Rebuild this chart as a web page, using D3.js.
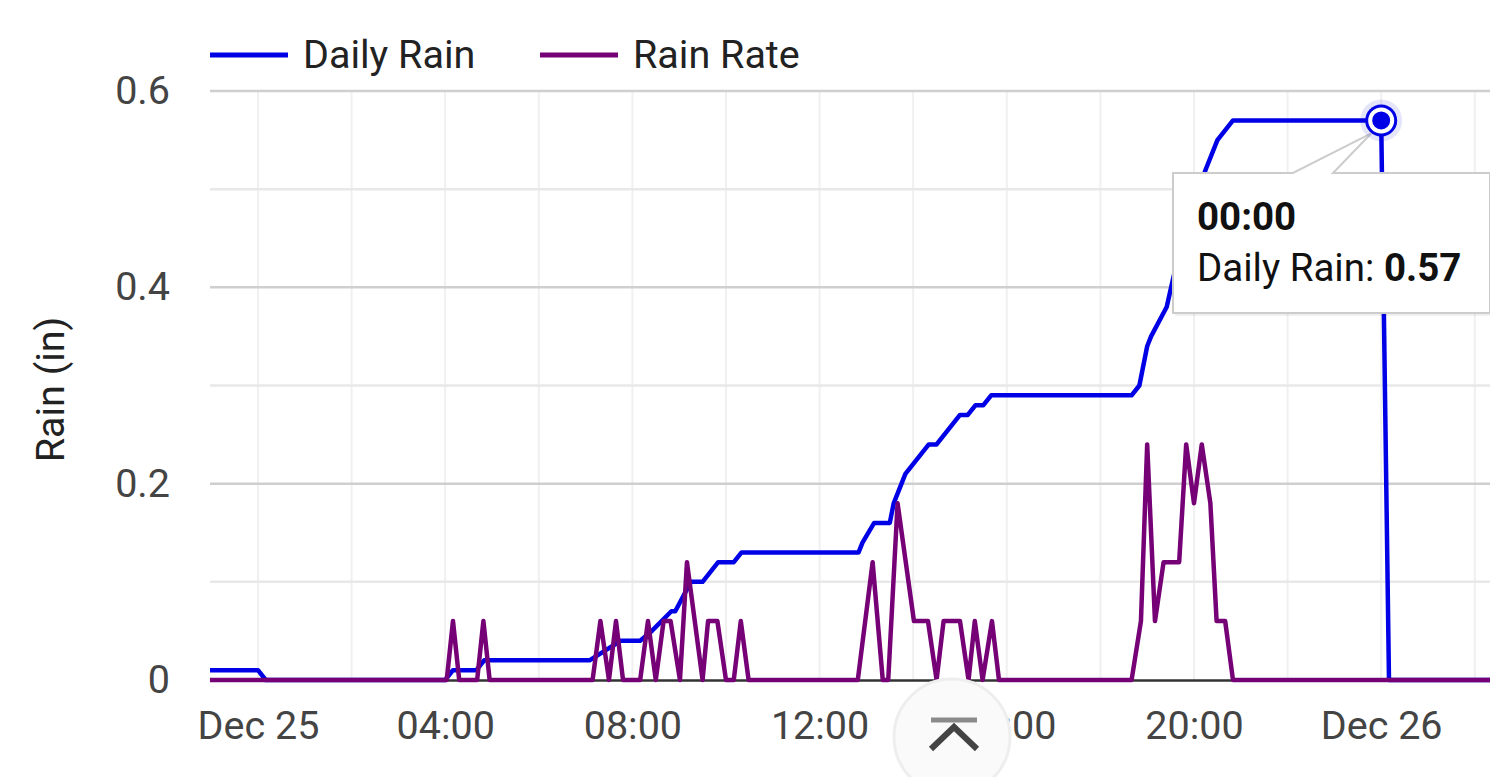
<!DOCTYPE html>
<html>
<head>
<meta charset="utf-8">
<script src="https://cdnjs.cloudflare.com/ajax/libs/d3/7.8.5/d3.min.js"></script>
<style>
  body { margin: 0; background: #fff; }
  svg { display: block; font-family: Roboto, "Noto Sans", sans-serif; }
</style>
</head>
<body>
<svg id="chart" width="1490" height="777"></svg>
<script>
// Daily Rain (in), cumulative for the day
var dailyTimes = ["2023-12-24 22:55", "2023-12-25 00:00", "2023-12-25 00:10", "2023-12-25 04:00",
    "2023-12-25 04:10", "2023-12-25 04:40", "2023-12-25 04:50", "2023-12-25 07:05", "2023-12-25 07:25",
    "2023-12-25 07:45", "2023-12-25 08:10", "2023-12-25 08:25", "2023-12-25 08:50", "2023-12-25 08:55",
    "2023-12-25 09:15", "2023-12-25 09:30", "2023-12-25 09:50", "2023-12-25 10:10", "2023-12-25 10:20",
    "2023-12-25 12:50", "2023-12-25 12:55", "2023-12-25 13:10", "2023-12-25 13:30", "2023-12-25 13:35",
    "2023-12-25 13:50", "2023-12-25 14:20", "2023-12-25 14:30", "2023-12-25 15:00", "2023-12-25 15:10",
    "2023-12-25 15:20", "2023-12-25 15:30", "2023-12-25 15:40", "2023-12-25 18:40", "2023-12-25 18:50",
    "2023-12-25 19:00", "2023-12-25 19:05", "2023-12-25 19:25", "2023-12-25 19:45", "2023-12-25 20:15",
    "2023-12-25 20:30", "2023-12-25 20:50", "2023-12-26 00:00", "2023-12-26 00:10", "2023-12-26 02:30"];
var dailyRain = [0.01, 0.01, 0, 0,
    0.01, 0.01, 0.02, 0.02, 0.03,
    0.04, 0.04, 0.05, 0.07, 0.07,
    0.10, 0.10, 0.12, 0.12, 0.13,
    0.13, 0.14, 0.16, 0.16, 0.18,
    0.21, 0.24, 0.24, 0.27, 0.27,
    0.28, 0.28, 0.29, 0.29, 0.30,
    0.34, 0.35, 0.38, 0.45, 0.52,
    0.55, 0.57, 0.57, 0, 0];

// Rain Rate (in/hr)
var rateTimes = ["2023-12-24 22:55", "2023-12-25 04:02", "2023-12-25 04:10", "2023-12-25 04:18",
    "2023-12-25 04:41", "2023-12-25 04:49", "2023-12-25 04:57", "2023-12-25 07:09", "2023-12-25 07:19",
    "2023-12-25 07:30", "2023-12-25 07:39", "2023-12-25 07:48", "2023-12-25 08:10", "2023-12-25 08:20",
    "2023-12-25 08:30", "2023-12-25 08:40", "2023-12-25 08:49", "2023-12-25 09:01", "2023-12-25 09:10",
    "2023-12-25 09:30", "2023-12-25 09:37", "2023-12-25 09:49", "2023-12-25 10:00", "2023-12-25 10:10",
    "2023-12-25 10:19", "2023-12-25 10:29", "2023-12-25 12:49", "2023-12-25 13:08", "2023-12-25 13:21",
    "2023-12-25 13:28", "2023-12-25 13:40", "2023-12-25 14:01", "2023-12-25 14:19", "2023-12-25 14:30",
    "2023-12-25 14:39", "2023-12-25 15:00", "2023-12-25 15:11", "2023-12-25 15:19", "2023-12-25 15:29",
    "2023-12-25 15:41", "2023-12-25 15:50", "2023-12-25 18:40", "2023-12-25 18:52", "2023-12-25 19:00",
    "2023-12-25 19:10", "2023-12-25 19:21", "2023-12-25 19:41", "2023-12-25 19:50", "2023-12-25 20:00",
    "2023-12-25 20:10", "2023-12-25 20:21", "2023-12-25 20:29", "2023-12-25 20:40", "2023-12-25 20:50",
    "2023-12-26 02:30"];
var rainRate = [0, 0, 0.06, 0,
    0, 0.06, 0, 0, 0.06,
    0, 0.06, 0, 0, 0.06,
    0, 0.06, 0.06, 0, 0.12,
    0, 0.06, 0.06, 0, 0,
    0.06, 0, 0, 0.12, 0,
    0, 0.18, 0.06, 0.06, 0,
    0.06, 0.06, 0, 0.06, 0,
    0.06, 0, 0, 0.06, 0.24,
    0.06, 0.12, 0.12, 0.24, 0.18,
    0.24, 0.18, 0.06, 0.06, 0,
    0];

var seriesNames = ["Daily Rain", "Rain Rate"];
var seriesColors = ["#0000e6", "#760076"];
var yTicks = [0, 0.2, 0.4, 0.6];
var yMinorTicks = [0.1, 0.3, 0.5];
var xRange = ["2023-12-24 22:58:30", "2023-12-26 02:19:30"];
var hoverTime = "2023-12-26 00:00";
var hoverValue = 0.57;

var parseTime = d3.timeParse("%Y-%m-%d %H:%M");
var parseSec = d3.timeParse("%Y-%m-%d %H:%M:%S");
var fontSize = 39.5;

var svg = d3.select("#chart");
var margin = {top: 91, right: 0, bottom: 97, left: 210};
var width = +svg.attr("width") - margin.left - margin.right;
var height = +svg.attr("height") - margin.top - margin.bottom;

var x = d3.scaleTime()
    .domain([parseSec(xRange[0]), parseSec(xRange[1])])
    .range([margin.left, margin.left + width]);
var y = d3.scaleLinear().domain([0, 0.6]).range([margin.top + height, margin.top]);

// vertical grid every 2 hours
svg.append("g")
    .selectAll("line")
    .data(x.ticks(d3.timeHour.every(2)))
    .enter().append("line")
    .attr("x1", function(d) { return x(d); })
    .attr("x2", function(d) { return x(d); })
    .attr("y1", y(0.6)).attr("y2", y(0))
    .attr("stroke", "#f0f0f0").attr("stroke-width", 2);

// horizontal grid
svg.append("g")
    .selectAll("line")
    .data(yMinorTicks)
    .enter().append("line")
    .attr("x1", margin.left).attr("x2", margin.left + width)
    .attr("y1", function(d) { return y(d); })
    .attr("y2", function(d) { return y(d); })
    .attr("stroke", "#e8e8e8").attr("stroke-width", 2.5);

svg.append("g")
    .selectAll("line")
    .data(yTicks.slice(1))
    .enter().append("line")
    .attr("x1", margin.left).attr("x2", margin.left + width)
    .attr("y1", function(d) { return y(d); })
    .attr("y2", function(d) { return y(d); })
    .attr("stroke", "#cfcfcf").attr("stroke-width", 2.5);

// x axis
var xAxis = d3.axisBottom(x)
    .ticks(d3.timeHour.every(4))
    .tickSize(0)
    .tickPadding(31)
    .tickFormat(function(d) {
        return d.getHours() === 0 ? d3.timeFormat("%b %d")(d) : d3.timeFormat("%H:%M")(d);
    });
var gx = svg.append("g")
    .attr("transform", "translate(0," + y(0) + ")")
    .call(xAxis);
gx.select(".domain").attr("stroke", "#333").attr("stroke-width", 2.5);
gx.selectAll("text").attr("font-size", fontSize).attr("fill", "#444").attr("font-family", "Roboto");

// y axis
var yAxis = d3.axisLeft(y)
    .tickValues(yTicks)
    .tickSize(0)
    .tickPadding(40)
    .tickFormat(function(d) { return d === 0 ? "0" : d3.format(".1f")(d); });
var gy = svg.append("g")
    .attr("transform", "translate(" + margin.left + ",0)")
    .call(yAxis);
gy.select(".domain").remove();
gy.selectAll("text").attr("font-size", fontSize).attr("fill", "#444").attr("font-family", "Roboto");

svg.append("text")
    .attr("transform", "translate(64," + (margin.top + height / 2 + 4) + ") rotate(-90)")
    .attr("text-anchor", "middle")
    .attr("font-size", fontSize)
    .attr("fill", "#222")
    .text("Rain (in)");

// lines
svg.append("clipPath").attr("id", "plot")
    .append("rect")
    .attr("x", margin.left).attr("y", margin.top - 20)
    .attr("width", width).attr("height", height + 30);

var line = d3.line()
    .x(function(d) { return x(d.t); })
    .y(function(d) { return y(d.v); });

var dailyData = dailyTimes.map(function(t, i) { return {t: parseTime(t), v: dailyRain[i]}; });
var rateData = rateTimes.map(function(t, i) { return {t: parseTime(t), v: rainRate[i]}; });

var plot = svg.append("g").attr("clip-path", "url(#plot)");
[dailyData, rateData].forEach(function(data, i) {
    plot.append("path")
        .datum(data)
        .attr("fill", "none")
        .attr("stroke", seriesColors[i])
        .attr("stroke-width", 4.5)
        .attr("stroke-linejoin", "round")
        .attr("stroke-linecap", "round")
        .attr("d", line);
});

// legend
var legendX = [210, 540];
seriesNames.forEach(function(name, i) {
    var g = svg.append("g").attr("transform", "translate(" + legendX[i] + ",55)");
    g.append("line").attr("x1", 0).attr("x2", 78)
        .attr("stroke", seriesColors[i]).attr("stroke-width", 5);
    g.append("text").attr("x", 93).attr("y", 13)
        .attr("font-size", fontSize).attr("fill", "#222")
        .text(name);
});

// scroll-to-top button
var btn = svg.append("g").attr("transform", "translate(952,737)");
btn.append("circle").attr("r", 58).attr("fill", "#fafafa").attr("stroke", "#eeeeee").attr("stroke-width", 3);
btn.append("line").attr("x1", -21).attr("x2", 25).attr("y1", -17).attr("y2", -17)
    .attr("stroke", "#8a8a8a").attr("stroke-width", 5);
btn.append("path").attr("d", "M-21,12L2,-10L25,12")
    .attr("fill", "none").attr("stroke", "#444").attr("stroke-width", 6);

// hover tooltip
var hx = x(parseTime(hoverTime)), hy = y(hoverValue);
var tip = svg.append("g");
tip.append("rect").attr("x", 1175).attr("y", 176).attr("width", 320).attr("height", 140)
    .attr("fill", "rgba(0,0,0,0.06)");
tip.append("path")
    .attr("d", "M1173,173H1293L" + (hx - 10) + "," + (hy + 13) + "L1333,173H1490V313H1173Z")
    .attr("fill", "#fff").attr("stroke", "#cccccc").attr("stroke-width", 2);
tip.append("text").attr("x", 1197).attr("y", 230)
    .attr("font-size", 38.5).attr("font-weight", "bold").attr("fill", "#111")
    .text("00:00");
var t2 = tip.append("text").attr("x", 1197).attr("y", 281).attr("font-size", 38.5).attr("fill", "#111");
t2.append("tspan").text(seriesNames[0] + ": ");
t2.append("tspan").attr("font-weight", "bold").text(d3.format(".2f")(hoverValue));

// hover marker
svg.append("circle").attr("cx", hx).attr("cy", hy).attr("r", 21).attr("fill", "rgba(0,0,200,0.1)");
svg.append("circle").attr("cx", hx).attr("cy", hy).attr("r", 16).attr("fill", seriesColors[0]);
svg.append("circle").attr("cx", hx).attr("cy", hy).attr("r", 11)
    .attr("fill", seriesColors[0]).attr("stroke", "#fff").attr("stroke-width", 4);
</script>
</body>
</html>
